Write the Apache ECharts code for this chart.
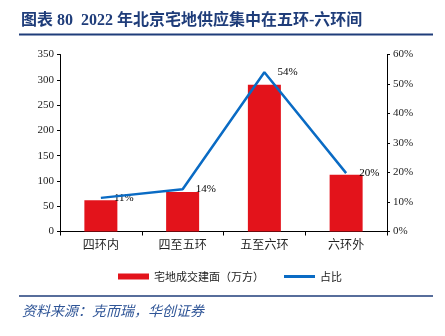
<!DOCTYPE html>
<html>
<head>
<meta charset="utf-8">
<script src="https://cdn.jsdelivr.net/npm/echarts@6/dist/echarts.min.js"></script>
<style>
  html, body { margin: 0; padding: 0; background: #fff; }
  #chart { width: 445px; height: 336px; }
</style>
</head>
<body>
<div id="chart"></div>
<script>
// datos
const categories = ['四环内', '四至五环', '五至六环', '六环外'];
const areaValues = [62, 78, 290, 112];        // 宅地成交建面（万方）
const shareValues = [0.114, 0.143, 0.54, 0.198]; // 占比
const leftTicks = { min: 0, max: 350, interval: 50 };
const rightTicks = { min: 0, max: 0.6, interval: 0.1 };

const serif = '"Liberation Serif", "Times New Roman", "Noto Sans CJK SC", serif';
const cjk = '"Noto Sans CJK SC", sans-serif';
const navy = '#1f3d7a';
const blue = '#0a6bc4';
const pct = v => Math.round(v * 100) + '%';

const chart = echarts.init(document.getElementById('chart'));

const option = {
  animation: false,
  backgroundColor: '#fff',
  grid: { left: 60, right: 58, top: 54.5, bottom: 104.5 },
  legend: {
    left: 113,
    top: 266,
    itemWidth: 31,
    itemHeight: 6,
    itemGap: 20,
    textStyle: { fontFamily: cjk, fontSize: 11, color: '#222' },
    data: [
      { name: '宅地成交建面（万方）', icon: 'rect' },
      { name: '占比', icon: 'path://M0,0 L31,0 L31,3 L0,3 Z', itemStyle: { color: blue } }
    ]
  },
  graphic: [
    {
      type: 'text', left: 21, top: 13,
      style: {
        text: '图表 80  2022 年北京宅地供应集中在五环-六环间',
        font: 'bold 16px ' + serif,
        fill: navy
      }
    },
    {
      type: 'line',
      shape: { x1: 19, y1: 34.5, x2: 433, y2: 34.5 },
      style: { stroke: navy, lineWidth: 2 }
    },
    {
      type: 'line',
      shape: { x1: 19, y1: 296, x2: 433, y2: 296 },
      style: { stroke: navy, lineWidth: 1.5 }
    },
    {
      type: 'text', left: 22, top: 304,
      style: {
        text: '资料来源：克而瑞，华创证券',
        font: 'italic 14px ' + cjk,
        fill: '#2f5597'
      }
    }
  ],
  xAxis: {
    type: 'category',
    data: categories,
    boundaryGap: true,
    axisLine: { lineStyle: { color: '#000', width: 1 } },
    axisTick: { show: true, length: 4, lineStyle: { color: '#000' } },
    axisLabel: { fontFamily: cjk, fontSize: 12, color: '#222', margin: 7 }
  },
  yAxis: [
    {
      type: 'value',
      min: leftTicks.min, max: leftTicks.max, interval: leftTicks.interval,
      splitLine: { show: false },
      axisLine: { show: true, lineStyle: { color: '#000' } },
      axisTick: { show: true, length: 3, lineStyle: { color: '#000' } },
      axisLabel: { fontFamily: serif, fontSize: 11, color: '#222', margin: 6 }
    },
    {
      type: 'value',
      min: rightTicks.min, max: rightTicks.max, interval: rightTicks.interval,
      splitLine: { show: false },
      axisLine: { show: true, lineStyle: { color: '#000' } },
      axisTick: { show: true, length: 3, lineStyle: { color: '#000' } },
      axisLabel: {
        fontFamily: serif, fontSize: 11, color: '#222', margin: 6,
        formatter: pct
      }
    }
  ],
  series: [
    {
      name: '宅地成交建面（万方）',
      type: 'bar',
      data: areaValues,
      barWidth: 33,
      itemStyle: { color: '#e3131b' }
    },
    {
      name: '占比',
      type: 'line',
      yAxisIndex: 1,
      data: shareValues,
      symbol: 'none',
      lineStyle: { color: blue, width: 2.5 },
      itemStyle: { color: blue }
    },
    {
      // solo para las etiquetas de porcentaje
      name: 'etiquetas',
      type: 'scatter',
      yAxisIndex: 1,
      data: shareValues,
      symbolSize: 0,
      silent: true,
      itemStyle: { opacity: 1 },
      label: {
        show: true,
        position: 'right',
        distance: 13,
        fontFamily: serif,
        fontSize: 11,
        color: '#000',
        opacity: 1,
        formatter: p => pct(p.value)
      }
    }
  ]
};

chart.setOption(option);
</script>
</body>
</html>
